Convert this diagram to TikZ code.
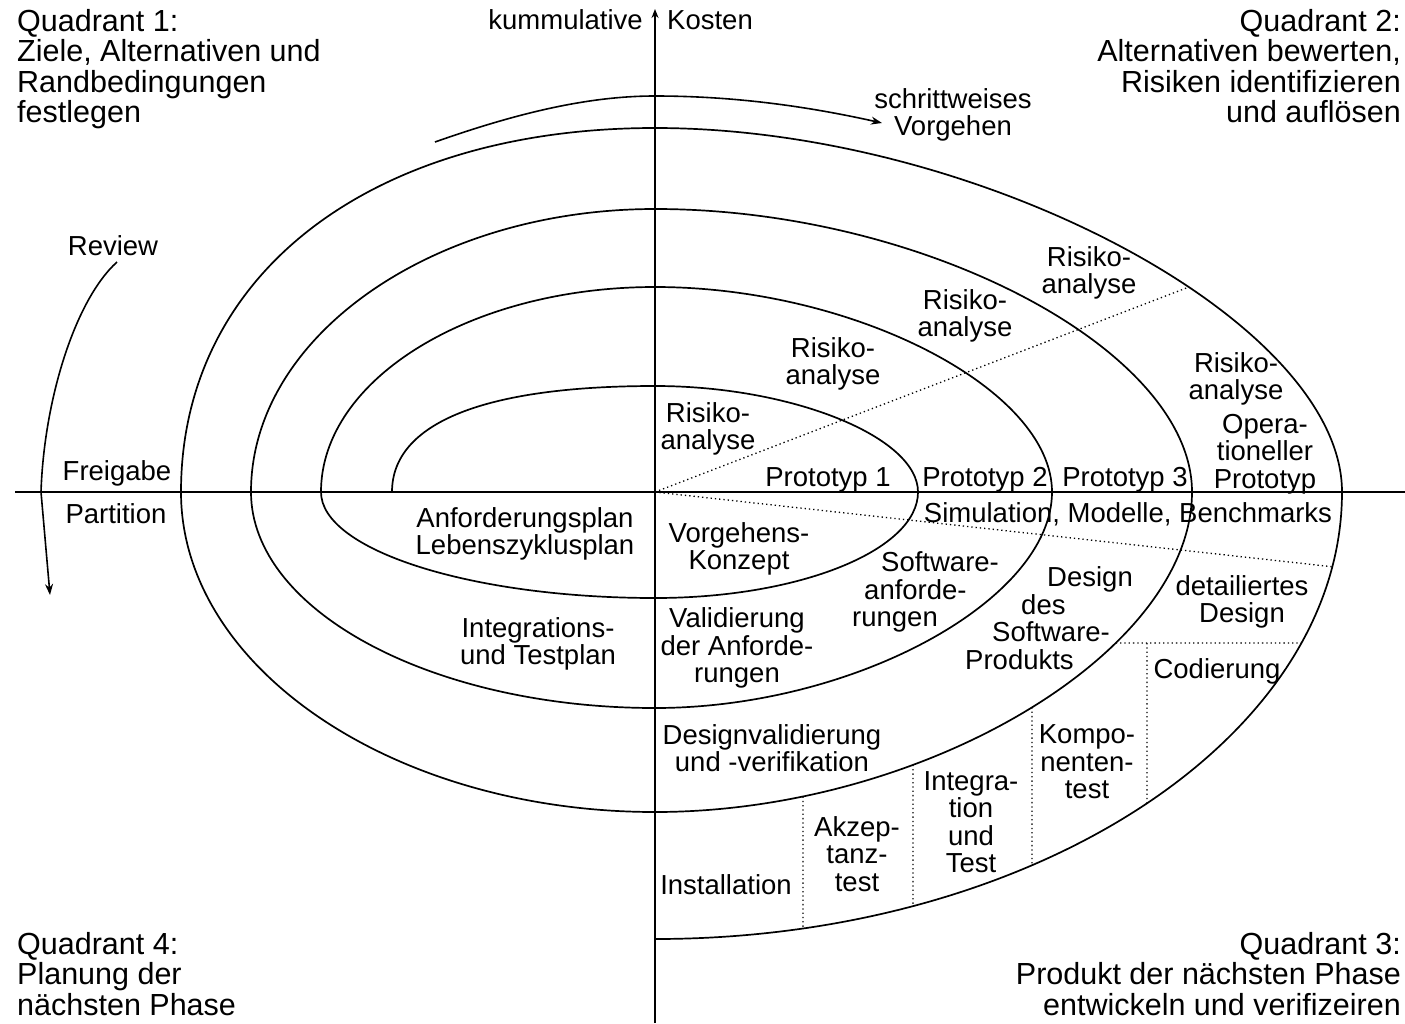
\documentclass[tikz,border=0pt]{standalone}
\usepackage{fontspec}
\setmainfont{Liberation Sans}
\usetikzlibrary{arrows.meta,intersections}
\begin{document}
\begin{tikzpicture}[x=1pt,y=1pt,
  spiral/.style={line width=1.7pt},
  axisline/.style={line width=1.7pt},
  sepline/.style={line width=1.3pt, dash pattern=on 1.3pt off 3pt},
  lbl/.style={inner sep=0pt, align=center, font=\fontsize{27.5}{27.5}\selectfont},
  qlbl/.style={inner sep=0pt, font=\fontsize{30.5}{30.5}\selectfont},
  curvearrow/.style={line width=1.6pt, -{Stealth[length=11pt,width=8pt]}}
]
\fill[white] (0,0) rectangle (1405,-1023);
\useasboundingbox (0,0) rectangle (1405,-1023);

% axes
\coordinate (O) at (655,-492);
\coordinate (xl) at (15,-492);
\coordinate (xr) at (1405,-492);
\coordinate (yb) at (655,-1023);
\coordinate (yt) at (655,-9);
\draw[axisline] (xl) -- (xr);
\draw[axisline,-{Stealth[length=9pt,width=7pt]}] (yb) -- (yt);

% spiral
\begin{scope}[shift={(655,-492)}]
\draw[spiral] (-263,0) .. controls (-263,69) and (-171,106) .. (0,106)
 .. controls (137,106) and (263,55) .. (263,0)
 .. controls (263,-58) and (145,-106) .. (0,-106)
 .. controls (-184,-106) and (-334,-58) .. (-334,0)
 .. controls (-334,113) and (-184,205) .. (0,205)
 .. controls (199,205) and (397,103) .. (397,0)
 .. controls (397,-108) and (199,-216) .. (0,-216)
 .. controls (-222,-216) and (-404,-119) .. (-404,0)
 .. controls (-404,156) and (-222,283) .. (0,283)
 .. controls (269,283) and (537,142) .. (537,0)
 .. controls (537,-160) and (269,-320) .. (0,-320)
 .. controls (-261,-320) and (-474,-176) .. (-474,0)
 .. controls (-474,218) and (-284,364) .. (0,364)
 .. controls (323,364) and (687,171) .. (687,0)
 .. controls (687,-246) and (378,-447) .. (0,-447);

\path[name path=q2o] (0,364) .. controls (323,364) and (687,171) .. (687,0);
\path[name path=q3o] (687,0) .. controls (687,-246) and (378,-447) .. (0,-447);
\path[name path=q3t] (537,0) .. controls (537,-160) and (269,-320) .. (0,-320);
\path[name path=d1] (0,0) -- (21:800);
\path[name path=d2] (0,0) -- (-6.3:800);
\path[name path=h1] (300,-151) -- (800,-151);
\path[name path=v1] (148,-100) -- (148,-500);
\path[name path=v2] (258,-100) -- (258,-500);
\path[name path=v3] (377,-100) -- (377,-500);
\path[name path=v4] (492,-100) -- (492,-500);
\path[name intersections={of=q2o and d1, by={e1}}];
\path[name intersections={of=q3o and d2, by={e2}}];
\path[name intersections={of=q3t and h1, by={h1a}}];
\path[name intersections={of=q3o and h1, by={h1b}}];
\path[name intersections={of=q3t and v1, by={v1a}}];
\path[name intersections={of=q3o and v1, by={v1b}}];
\path[name intersections={of=q3t and v2, by={v2a}}];
\path[name intersections={of=q3o and v2, by={v2b}}];
\path[name intersections={of=q3t and v3, by={v3a}}];
\path[name intersections={of=q3o and v3, by={v3b}}];
\path[name intersections={of=q3o and v4, by={v4b}}];
\coordinate (v4a) at (492,-151);
\end{scope}

% dotted separators
\draw[sepline] (O) -- (e1);
\draw[sepline] (O) -- (e2);
\draw[sepline] (h1a) -- (h1b);
\draw[sepline] (v1a) -- (v1b);
\draw[sepline] (v2a) -- (v2b);
\draw[sepline] (v3a) -- (v3b);
\draw[sepline] (v4a) -- (v4b);

% curved arrows
\coordinate (s0) at (435,-142);
\coordinate (s1) at (655,-96);
\coordinate (s2) at (882,-123);
\draw[curvearrow] (s0) .. controls (520,-112) and (590,-96) .. (s1)
  .. controls (740,-96) and (815,-108) .. (s2);
\coordinate (r0) at (117,-262);
\coordinate (r1) at (41,-492);
\coordinate (r2) at (50,-595);
\draw[curvearrow] (r0) .. controls (75,-300) and (44,-400) .. (r1) -- (r2);

% quadrant labels
\node[qlbl,anchor=north west,align=left] (q1) at (17,-9) {Quadrant 1:\\Ziele, Alternativen und\\Randbedingungen\\festlegen};
\node[qlbl,anchor=north east,align=right] (q2) at (1401,-9) {Quadrant 2:\\Alternativen bewerten,\\Risiken identifizieren\\und auflösen};
\node[qlbl,anchor=north west,align=left] (q4) at (17,-932) {Quadrant 4:\\Planung der\\nächsten Phase};
\node[qlbl,anchor=north east,align=right] (q3) at (1401,-932) {Quadrant 3:\\Produkt der nächsten Phase\\entwickeln und verifizeiren};

% axis labels
\node[lbl,anchor=base east] (kum) at (643,-29) {kummulative};
\node[lbl,anchor=base west] (kos) at (667,-29) {Kosten};

% other labels
\node[lbl] (sv) at (953,-115) {schrittweises\\Vorgehen};
\node[lbl] (rev) at (113,-246) {Review};
\node[lbl] (frei) at (117,-473) {Freigabe};
\node[lbl] (part) at (116,-514) {Partition};
\node[lbl] (ra1) at (708,-429) {Risiko-\\analyse};
\node[lbl] (ra2) at (833,-364) {Risiko-\\analyse};
\node[lbl] (ra3) at (965,-316) {Risiko-\\analyse};
\node[lbl] (ra4) at (1089,-273) {Risiko-\\analyse};
\node[lbl] (ra5) at (1236,-379) {Risiko-\\analyse};
\node[lbl] (op) at (1265,-454) {Opera-\\tioneller\\Prototyp};
\node[lbl] (p1) at (828,-480) {Prototyp 1};
\node[lbl] (p2) at (985,-480) {Prototyp 2};
\node[lbl] (p3) at (1125,-480) {Prototyp 3};
\node[lbl] (sim) at (1128,-514) {Simulation, Modelle, Benchmarks};
\node[lbl] (anf) at (525,-534) {Anforderungsplan\\Lebenszyklusplan};
\node[lbl] (vk) at (739,-549) {Vorgehens-\\Konzept};
\node[lbl,anchor=west,align=left] (sw) at (852,-592) {\hspace*{29pt}Software-\\\hspace*{12pt}anforde-\\rungen};
\node[lbl,anchor=west,align=left] (dsp) at (965,-618) {\hspace*{82pt}Design\\\hspace*{56pt}des\\\hspace*{27pt}Software-\\Produkts};
\node[lbl] (det) at (1242,-602) {detailiertes\\Design};
\node[lbl] (cod) at (1217,-671) {Codierung};
\node[lbl] (val) at (737,-648) {Validierung\\der Anforde-\\rungen};
\node[lbl] (its) at (538,-644) {Integrations-\\und Testplan};
\node[lbl] (dv) at (772,-748) {Designvalidierung\\und -verifikation};
\node[lbl] (kt) at (1087,-762) {Kompo-\\nenten-\\test};
\node[lbl] (it) at (971,-822) {Integra-\\tion\\und\\Test};
\node[lbl] (akz) at (857,-854) {Akzep-\\tanz-\\test};
\node[lbl] (inst) at (726,-885) {Installation};
\end{tikzpicture}
\end{document}
